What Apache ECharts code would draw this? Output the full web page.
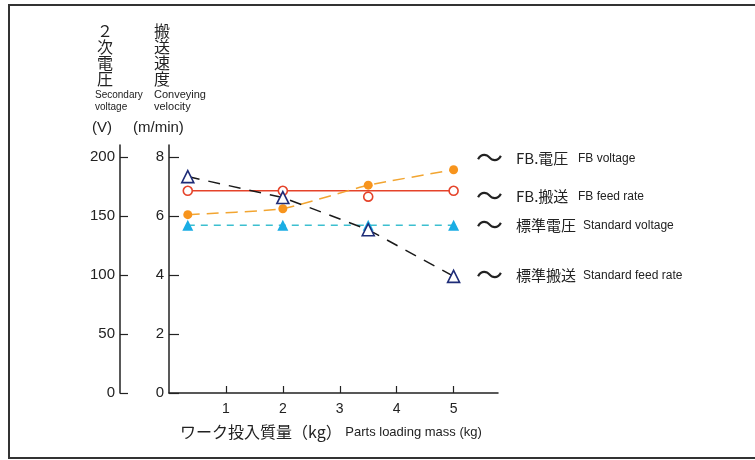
<!DOCTYPE html>
<html><head><meta charset="utf-8">
<script src="https://cdn.jsdelivr.net/npm/echarts@6/dist/echarts.min.js"></script>
<style>html,body{margin:0;padding:0;background:#fff}#c{width:755px;height:460px}</style>
</head><body><div id="c"></div>
<script>
// ---- data ----
const massKg = [0.33, 2, 3.5, 5];
const fbVoltage = [151, 156, 176, 189];          // V
const fbFeedRate = [6.85, 6.85, 6.65, 6.85];     // m/min (points)
const fbFeedLine = [6.85, 6.85, 6.85, 6.85];     // m/min (drawn line)
const stdVoltage = [142, 142, 142, 142];         // V
const stdFeedRate = [7.33, 6.62, 5.53, 3.95];    // m/min
const voltageTicks = [0, 50, 100, 150, 200];
const velocityTicks = [0, 2, 4, 6, 8];
const massTicks = [1, 2, 3, 4, 5];
const legendRows = [
  { jp: 'FB.電圧', en: 'FB voltage' },
  { jp: 'FB.搬送', en: 'FB feed rate' },
  { jp: '標準電圧', en: 'Standard voltage' },
  { jp: '標準搬送', en: 'Standard feed rate' }
];

const pairs = (xs, ys) => xs.map((x, i) => [x, ys[i]]);
const FONT = "'Liberation Sans', Arial, 'Noto Sans CJK JP', sans-serif";
const INK = '#222';

const chart = echarts.init(document.getElementById('c'), null, { renderer: 'canvas' });

const legendY = [160, 198, 227, 277];
const legendGraphics = [];
legendRows.forEach((r, i) => {
  legendGraphics.push({ type: 'text', left: 476, top: legendY[i] - 16, style: { text: '〜', font: "27px 'Noto Sans CJK JP'", fill: INK } });
  legendGraphics.push({ type: 'text', left: 516, top: legendY[i] - 9, style: { text: r.jp, font: "15px 'Noto Sans CJK JP'", fill: INK } });
  legendGraphics.push({ type: 'text', left: i < 2 ? 578 : 583, top: legendY[i] - 7, style: { text: r.en, font: '12px ' + FONT, fill: INK } });
});

chart.setOption({
  animation: false,
  backgroundColor: '#fff',
  grid: { left: 169, top: 145, right: 257, bottom: 67, containLabel: false, outerBoundsMode: 'none' },
  xAxis: {
    type: 'value', min: 0, max: 5.78,
    axisLine: { lineStyle: { color: INK, width: 1.5 } },
    axisTick: { inside: true, length: 7, customValues: massTicks, lineStyle: { color: INK, width: 1.2 } },
    axisLabel: { customValues: massTicks, color: INK, fontSize: 14, fontFamily: FONT, margin: 9 },
    splitLine: { show: false }
  },
  yAxis: [
    {
      type: 'value', position: 'left', offset: 0, min: 0, max: 8.4,
      axisLine: { show: true, lineStyle: { color: INK, width: 1.5 } },
      axisTick: { show: true, inside: true, length: 10, customValues: velocityTicks, lineStyle: { color: INK, width: 1.2 } },
      axisLabel: { customValues: velocityTicks, color: INK, fontSize: 15, fontFamily: FONT, margin: 5 },
      splitLine: { show: false }
    },
    {
      type: 'value', position: 'left', offset: 49, min: 0, max: 210,
      axisLine: { show: true, lineStyle: { color: INK, width: 1.5 } },
      axisTick: { show: true, inside: true, length: 8, customValues: voltageTicks, lineStyle: { color: INK, width: 1.2 } },
      axisLabel: { customValues: voltageTicks, color: INK, fontSize: 15, fontFamily: FONT, margin: 5 },
      splitLine: { show: false }
    }
  ],
  series: [
    {
      name: 'FB.搬送 line', type: 'line', yAxisIndex: 0, data: pairs(massKg, fbFeedLine),
      showSymbol: false, symbol: 'none', lineStyle: { color: '#E5432A', width: 1.5 }, z: 2
    },
    {
      name: 'FB.搬送', type: 'scatter', yAxisIndex: 0, data: pairs(massKg, fbFeedRate),
      symbol: 'circle', symbolSize: 9,
      itemStyle: { color: '#fff', borderColor: '#E5432A', borderWidth: 1.6, opacity: 1 }, z: 5
    },
    {
      name: '標準電圧', type: 'line', yAxisIndex: 1, data: pairs(massKg, stdVoltage),
      symbol: 'triangle', symbolSize: 11,
      itemStyle: { color: '#1AADE4', opacity: 1 },
      lineStyle: { color: '#3CBFD0', width: 1.5, type: [7, 6] }, z: 3
    },
    {
      name: 'FB.電圧', type: 'line', yAxisIndex: 1, data: pairs(massKg, fbVoltage),
      symbol: 'circle', symbolSize: 9, smooth: 0.12,
      itemStyle: { color: '#F7941D', opacity: 1 },
      lineStyle: { color: '#F2A531', width: 1.5, type: [12, 7] }, z: 4
    },
    {
      name: '標準搬送', type: 'line', yAxisIndex: 0, data: pairs(massKg, stdFeedRate),
      symbol: 'triangle', symbolSize: 12,
      itemStyle: { color: '#fff', borderColor: '#1E2C78', borderWidth: 1.6, opacity: 1 },
      lineStyle: { color: '#1a1a1a', width: 1.5, type: [12, 9] }, z: 6
    }
  ],
  graphic: [
    { type: 'rect', shape: { x: 9, y: 5, width: 780, height: 453 }, style: { fill: 'none', stroke: '#333', lineWidth: 2 }, silent: true },
    { type: 'text', left: 97, top: 23, style: { text: '２\n次\n電\n圧', font: "16px 'Noto Sans CJK JP'", lineHeight: 16, fill: INK } },
    { type: 'text', left: 154, top: 23, style: { text: '搬\n送\n速\n度', font: "16px 'Noto Sans CJK JP'", lineHeight: 16, fill: INK } },
    { type: 'text', left: 95, top: 89, style: { text: 'Secondary\nvoltage', font: '10px ' + FONT, lineHeight: 12, fill: INK } },
    { type: 'text', left: 154, top: 89, style: { text: 'Conveying\nvelocity', font: '11px ' + FONT, lineHeight: 12, fill: INK } },
    { type: 'text', left: 92, top: 120, style: { text: '(V)', font: '15px ' + FONT, fill: INK } },
    { type: 'text', left: 133, top: 120, style: { text: '(m/min)', font: '15px ' + FONT, fill: INK } },
    { type: 'text', left: 180, top: 424, style: {
        text: '{jp|ワーク投入質量（kg）}{en| Parts loading mass (kg)}',
        rich: { jp: { font: "16px 'Noto Sans CJK JP'", fill: INK, color: INK }, en: { font: '13px ' + FONT, fill: INK, color: INK } } } }
  ].concat(legendGraphics)
});
</script>
</body></html>
